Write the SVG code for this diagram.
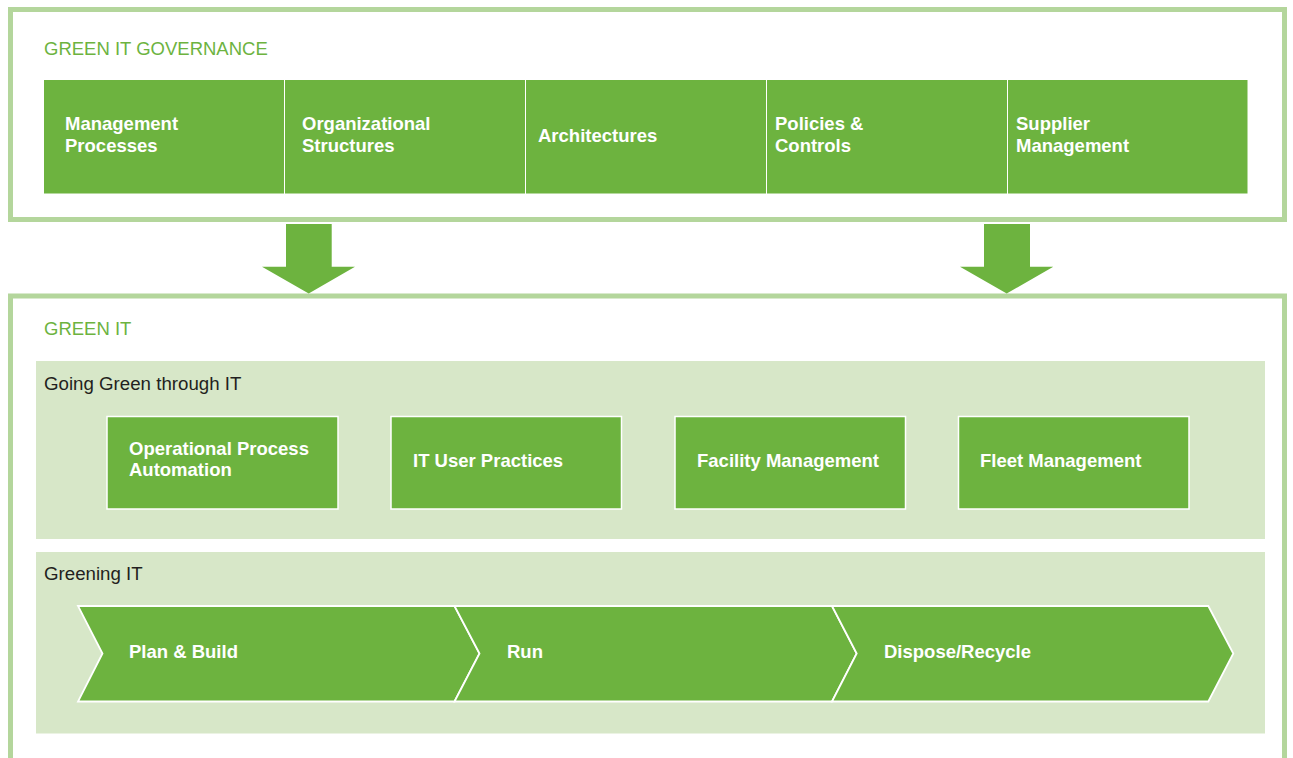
<svg xmlns="http://www.w3.org/2000/svg" width="1293" height="758" viewBox="0 0 1293 758">
  <style>
    .frame { fill: #ffffff; stroke: #b4d69c; stroke-width: 5; }
    .panel { fill: #d7e7c8; }
    .box { fill: #6db33f; }
    .cell { fill: #6db33f; stroke: #ffffff; stroke-width: 1.5; }
    .step { fill: #6db33f; stroke: #ffffff; stroke-width: 1.8; stroke-linejoin: miter; }
    .arrow { fill: #6db33f; }
    .title { font-family: "Liberation Sans", Arial, sans-serif; font-size: 18.5px; fill: #6db33f; }
    .sub { font-family: "Liberation Sans", Arial, sans-serif; font-size: 18.7px; fill: #231f20; }
    .lbl { font-family: "Liberation Sans", Arial, sans-serif; font-size: 18.5px; font-weight: bold; fill: #ffffff; }
  </style>

  <!-- Governance frame -->
  <g id="governance">
    <rect class="frame" x="10.5" y="9.5" width="1274" height="210"/>
    <text class="title" x="44" y="55">GREEN IT GOVERNANCE</text>
  </g>

  <g id="gov-management-processes">
    <rect class="box" x="44" y="80" width="240" height="113.5"/>
    <text class="lbl" x="65" y="130">Management</text>
    <text class="lbl" x="65" y="151.7">Processes</text>
  </g>
  <g id="gov-organizational-structures">
    <rect class="box" x="285" y="80" width="240" height="113.5"/>
    <text class="lbl" x="302" y="130">Organizational</text>
    <text class="lbl" x="302" y="151.7">Structures</text>
  </g>
  <g id="gov-architectures">
    <rect class="box" x="526" y="80" width="240" height="113.5"/>
    <text class="lbl" x="538" y="141.7">Architectures</text>
  </g>
  <g id="gov-policies-controls">
    <rect class="box" x="767" y="80" width="240" height="113.5"/>
    <text class="lbl" x="775" y="130">Policies &amp;</text>
    <text class="lbl" x="775" y="151.7">Controls</text>
  </g>
  <g id="gov-supplier-management">
    <rect class="box" x="1008" y="80" width="239.5" height="113.5"/>
    <text class="lbl" x="1016" y="130">Supplier</text>
    <text class="lbl" x="1016" y="151.7">Management</text>
  </g>

  <!-- Green IT frame (runs past the bottom edge) -->
  <g id="green-it">
    <rect class="frame" x="10.5" y="296" width="1274" height="480"/>
    <text class="title" x="44" y="335">GREEN IT</text>
  </g>

  <!-- Downward arrows from governance into Green IT -->
  <g id="connectors">
    <polygon class="arrow" points="286,224 331.7,224 331.7,266.7 355,266.7 308.7,293.5 262,266.7 286,266.7"/>
    <polygon class="arrow" points="984,224 1030,224 1030,266.7 1053.3,266.7 1006.7,293.5 960,266.7 984,266.7"/>
  </g>

  <!-- Going Green through IT -->
  <g id="going-green">
    <rect class="panel" x="36" y="361" width="1229" height="178"/>
    <text class="sub" x="44" y="390">Going Green through IT</text>
  </g>
  <g id="operational-process-automation">
    <rect class="cell" x="107" y="416.5" width="231" height="92.5"/>
    <text class="lbl" x="129" y="455">Operational Process</text>
    <text class="lbl" x="129" y="475.7">Automation</text>
  </g>
  <g id="it-user-practices">
    <rect class="cell" x="391" y="416.5" width="230.5" height="92.5"/>
    <text class="lbl" x="413" y="466.7">IT User Practices</text>
  </g>
  <g id="facility-management">
    <rect class="cell" x="675" y="416.5" width="230.5" height="92.5"/>
    <text class="lbl" x="697" y="466.7">Facility Management</text>
  </g>
  <g id="fleet-management">
    <rect class="cell" x="958.5" y="416.5" width="230.5" height="92.5"/>
    <text class="lbl" x="980" y="466.7">Fleet Management</text>
  </g>

  <!-- Greening IT -->
  <g id="greening-it">
    <rect class="panel" x="36" y="552" width="1229" height="181.5"/>
    <text class="sub" x="44" y="580">Greening IT</text>
  </g>
  <g id="plan-build">
    <polygon class="step" points="78,606 454.5,606 479.5,653.5 454.5,701.5 78,701.5 102.5,653.5"/>
    <text class="lbl" x="129" y="658">Plan &amp; Build</text>
  </g>
  <g id="run">
    <polygon class="step" points="454.5,606 832,606 856.7,653.5 832,701.5 454.5,701.5 479.5,653.5"/>
    <text class="lbl" x="507" y="658">Run</text>
  </g>
  <g id="dispose-recycle">
    <polygon class="step" points="832,606 1208.3,606 1233.3,653.5 1208.3,701.5 832,701.5 856.7,653.5"/>
    <text class="lbl" x="884" y="658">Dispose/Recycle</text>
  </g>
</svg>
